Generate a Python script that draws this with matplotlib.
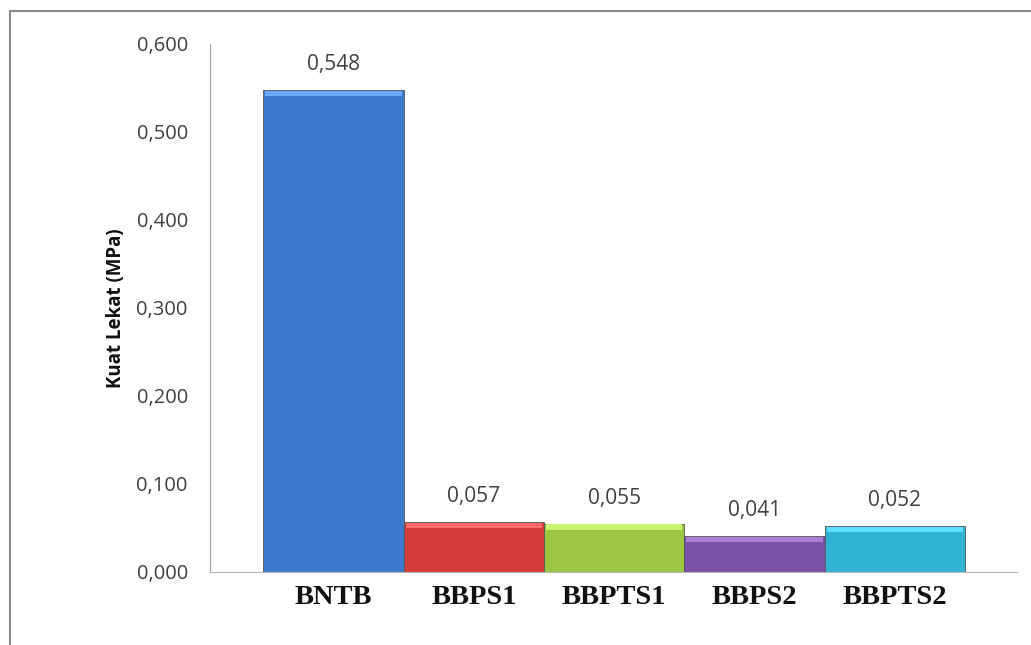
import numpy as np
import matplotlib
matplotlib.use('Agg')
import matplotlib.pyplot as plt
from matplotlib.lines import Line2D

# data
samples = ['BNTB', 'BBPS1', 'BBPTS1', 'BBPS2', 'BBPTS2']
kuat_lekat = [0.548, 0.057, 0.055, 0.041, 0.052]
bar_colors = ['#3d7acb', '#d23c3a', '#9cc641', '#7b51a6', '#2fb2d4']
y_ticks = [0.0, 0.1, 0.2, 0.3, 0.4, 0.5, 0.6]

fig = plt.figure(figsize=(10.31, 6.45), dpi=100)
ax = fig.add_axes([210/1031, 1 - 572/645, (1017 - 210)/1031, (572 - 44)/645])

x = np.arange(len(samples))
bars = ax.bar(x, kuat_lekat, width=1.0, color=bar_colors,
              edgecolor='#555555', linewidth=0.6, zorder=2)

# little bevel on top of each bar, like the excel style
for b, c in zip(bars, bar_colors):
    light = tuple(min(1, v + 0.18) for v in matplotlib.colors.to_rgb(c))
    ax.bar(b.get_x() + b.get_width()/2, 0.006, width=0.97,
           bottom=b.get_height() - 0.007, color=light, linewidth=0, zorder=3)

for xi, v in zip(x, kuat_lekat):
    ax.text(xi, v + 0.029, '{:.3f}'.format(v).replace('.', ','),
            ha='center', va='center', fontsize=15, color='#404040',
            family='Open Sans')

ax.set_xlim(-0.88, 4.87)
ax.set_ylim(0, 0.6)
ax.set_yticks(y_ticks)
ax.set_yticklabels(['{:.3f}'.format(t).replace('.', ',') for t in y_ticks],
                   family='Open Sans', fontsize=14.5, color='#404040')
ax.set_xticks(x)
ax.set_xticklabels(samples, family='Liberation Serif', fontweight='bold',
                   fontsize=20.5, color='#111111')
ax.tick_params(axis='y', length=0, pad=16)
ax.tick_params(axis='x', length=0, pad=9)

for s in ['top', 'right']:
    ax.spines[s].set_visible(False)
ax.spines['left'].set_color('#a0a0a0')
ax.spines['bottom'].set_color('#b8b8b8')

ax.set_ylabel('Kuat Lekat (MPa)', family='Open Sans', fontweight='bold',
              fontsize=13.5, color='#111111')
ax.yaxis.set_label_coords(-0.104, 0.5)

# outer frame (only left and top visible)
fig.add_artist(Line2D([10/1031, 10/1031], [0, 1 - 11/645], color='#888888', lw=1.5))
fig.add_artist(Line2D([10/1031, 1], [1 - 11/645, 1 - 11/645], color='#888888', lw=1.5))

fig.savefig('out.png', dpi=100)
